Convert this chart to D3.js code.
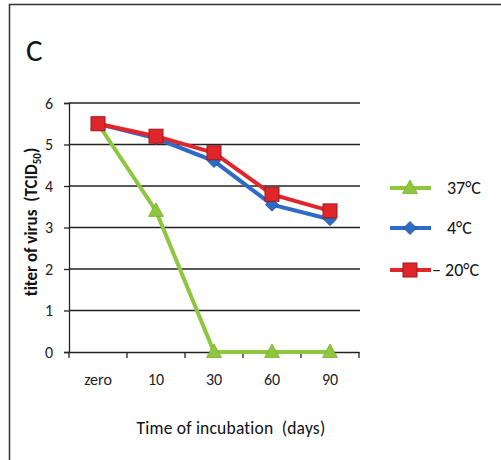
<!DOCTYPE html>
<html>
<head>
<meta charset="utf-8">
<script src="https://cdn.jsdelivr.net/npm/d3@7"></script>
<style>
  body { margin: 0; background: #fff; }
  svg { display: block; }
  text { font-variant-ligatures: none; white-space: pre; }
</style>
</head>
<body>
<svg id="svg-main" width="501" height="460"></svg>
<script>
var days = ["zero", "10", "30", "60", "90"];
var t37 = [5.5, 3.4, 0, 0, 0];
var t4 = [5.5, 5.15, 4.6, 3.55, 3.2];
var tm20 = [5.5, 5.2, 4.8, 3.8, 3.4];
var yTicks = [0, 1, 2, 3, 4, 5, 6];

var series = [
    { name: "37\u00B0C", values: t37, color: "#8DC63F", dark: "#7AAE2F", shape: "tri" },
    { name: "4\u00B0C", values: t4, color: "#2E6BC6", dark: "#1F4E9A", shape: "diamond" },
    { name: "\u2013 20\u00B0C", values: tm20, color: "#E0262B", dark: "#9A1A1A", shape: "square" }
];

var svg = d3.select("#svg-main");
var font = "Carlito, Calibri, 'Liberation Sans', sans-serif";

// frame (only top and left edges show in the picture)
svg.append("rect")
   .attr("x", 9.5).attr("y", 4.5)
   .attr("width", 600).attr("height", 600)
   .attr("fill", "none")
   .attr("stroke", "#333")
   .attr("stroke-width", 1.5);

svg.append("text")
   .attr("x", 26).attr("y", 61)
   .attr("font-family", font)
   .style("font-size", "31px")
   .attr("fill", "#111")
   .text("C");

var x = d3.scaleBand().domain(days).range([69, 359]);
var y = d3.scaleLinear().domain([0, 6]).range([352, 103]);

// gridlines
svg.append("g")
   .selectAll("line")
   .data(yTicks.filter(function(d) { return d > 0; }))
   .join("line")
   .attr("x1", 69).attr("x2", 360)
   .attr("y1", function(d) { return y(d); })
   .attr("y2", function(d) { return y(d); })
   .attr("stroke", "#222")
   .attr("stroke-width", 1.3);

var yAxis = svg.append("g")
   .attr("transform", "translate(69,0)")
   .call(d3.axisLeft(y).tickValues(yTicks).tickFormat(d3.format("d")).tickSize(5).tickPadding(11));
yAxis.select(".domain").attr("stroke", "#222").attr("stroke-width", 1.3);
yAxis.selectAll(".tick line").attr("stroke", "#222").attr("stroke-width", 1.3);
yAxis.selectAll("text")
   .attr("font-family", font)
   .style("font-size", "16px")
   .attr("fill", "#222");

var xAxis = svg.append("g")
   .attr("transform", "translate(0,352)")
   .call(d3.axisBottom(x).tickSize(0).tickPadding(22));
xAxis.select(".domain").attr("stroke", "#222").attr("stroke-width", 1.3);
xAxis.selectAll("text")
   .attr("font-family", font)
   .style("font-size", "16px")
   .attr("fill", "#222");

// tick marks on category boundaries
svg.append("g")
   .selectAll("line")
   .data(days.map(function(d) { return x(d); }).concat([x.range()[1]]))
   .join("line")
   .attr("x1", function(d) { return d; })
   .attr("x2", function(d) { return d; })
   .attr("y1", 352).attr("y2", 358)
   .attr("stroke", "#222")
   .attr("stroke-width", 1.3);

svg.append("text")
   .attr("x", 231).attr("y", 434)
   .attr("text-anchor", "middle")
   .attr("font-family", font)
   .style("font-size", "17.5px")
   .style("letter-spacing", "0.2px")
   .attr("fill", "#111")
   .text("Time of incubation  (days)");

var yTitle = svg.append("text")
   .attr("transform", "translate(37,222) rotate(-90)")
   .attr("text-anchor", "middle")
   .attr("font-family", font)
   .attr("font-weight", "bold")
   .style("font-size", "17px")
   .attr("fill", "#111");
yTitle.append("tspan").text("titer of virus  (TCID");
yTitle.append("tspan").attr("dy", 4).style("font-size", "11px").text("50");
yTitle.append("tspan").attr("dy", -4).text(")");

function drawMarker(g, shape, cx, cy, s) {
    if (shape == "tri") {
        g.append("path")
         .attr("d", "M" + cx + "," + (cy - 8) + "L" + (cx + 7.5) + "," + (cy + 5.5) + "L" + (cx - 7.5) + "," + (cy + 5.5) + "Z")
         .attr("fill", s.color).attr("stroke", s.dark).attr("stroke-width", 0.8);
    } else if (shape == "diamond") {
        g.append("path")
         .attr("d", "M" + cx + "," + (cy - 6.5) + "L" + (cx + 6.5) + "," + cy + "L" + cx + "," + (cy + 6.5) + "L" + (cx - 6.5) + "," + cy + "Z")
         .attr("fill", s.color).attr("stroke", s.dark).attr("stroke-width", 0.8);
    } else {
        g.append("rect")
         .attr("x", cx - 7).attr("y", cy - 7)
         .attr("width", 14).attr("height", 14)
         .attr("fill", s.color).attr("stroke", s.dark).attr("stroke-width", 1);
    }
}

var line = d3.line()
   .x(function(d, i) { return x(days[i]) + x.bandwidth() / 2; })
   .y(function(d) { return y(d); });

// draw green first, then blue, then red on top
series.forEach(function(s) {
    var g = svg.append("g");
    g.append("path")
     .datum(s.values)
     .attr("d", line)
     .attr("fill", "none")
     .attr("stroke", s.color)
     .attr("stroke-width", 4);
    s.values.forEach(function(v, i) {
        drawMarker(g, s.shape, x(days[i]) + x.bandwidth() / 2, y(v), s);
    });
});

// legend
var legendY = [188, 228, 270];
series.forEach(function(s, i) {
    var g = svg.append("g");
    g.append("line")
     .attr("x1", 390).attr("x2", 431)
     .attr("y1", legendY[i]).attr("y2", legendY[i])
     .attr("stroke", s.color)
     .attr("stroke-width", 4);
    drawMarker(g, s.shape, 410, legendY[i], s);
    g.append("text")
     .attr("x", i == 2 ? 432 : 447)
     .attr("y", legendY[i] + 6)
     .attr("font-family", font)
     .style("font-size", "18px")
     .attr("fill", "#111")
     .text(s.name);
});
</script>
</body>
</html>
